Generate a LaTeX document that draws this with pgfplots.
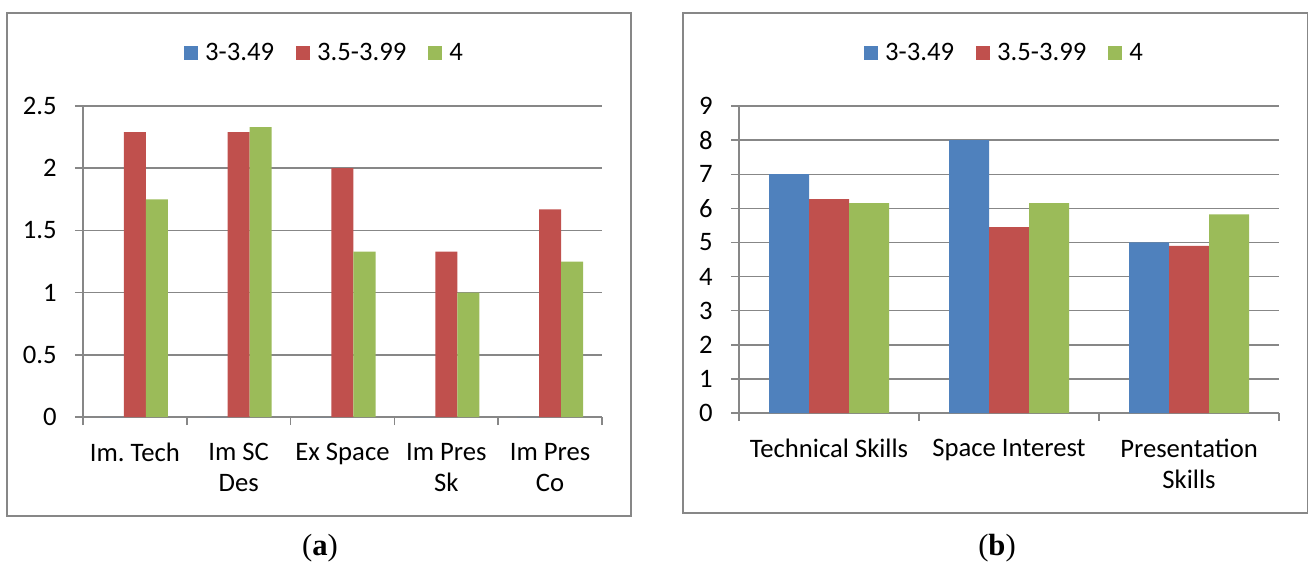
\documentclass[border=0pt]{standalone}
\usepackage{fontspec}
\setmainfont{Carlito}
\newfontfamily\capfont{Liberation Serif}
\usepackage{pgfplots}
\pgfplotsset{compat=1.18}

\definecolor{xlblue}{HTML}{4F81BD}
\definecolor{xlred}{HTML}{C0504D}
\definecolor{xlgreen}{HTML}{9BBB59}
\definecolor{xlgrid}{HTML}{878787}

\pgfplotsset{
  xlbar/.style={
    ybar=0pt,
    scale only axis,
    axis lines*=left,
    axis line style={xlgrid, line width=1.1pt},
    ymajorgrids,
    grid style={xlgrid, line width=1.1pt},
    major tick style={xlgrid, line width=1.1pt},
    tick align=outside,
    major tick length=6pt,
    x tick label as interval,
    /pgf/number format/assume math mode=true,
    tick label style={font=\fontsize{20}{23.25}\selectfont},
    xticklabel style={align=center, anchor=north, inner sep=0pt, yshift=-13.5pt},
    yticklabel style={anchor=east, inner sep=0pt, xshift=-13.5pt},
    legend style={draw=none, fill=none, legend columns=-1,
      font=\fontsize{20}{24}\selectfont,
      nodes={inner sep=0pt},
      /tikz/every odd column/.append style={column sep=5.25pt},
      /tikz/every even column/.append style={column sep=16.5pt}},
    legend image code/.code={\fill[##1] (0pt,-5.25pt) rectangle (10.5pt,5.25pt);},
    every axis plot/.append style={draw=none},
  }
}

\begin{document}
\begin{tikzpicture}[x=0.75pt, y=-0.75pt]
  \useasboundingbox (0,0) rectangle (1309,562);
  % frames round the two charts
  \draw[xlgrid, line width=1.1pt] (7,13) rectangle (631,516);
  \draw[xlgrid, line width=1.1pt] (683,13) rectangle (1307.5,513);
  \coordinate (A) at (83,417);
  \coordinate (B) at (739,413);

  % (a)
  \begin{axis}[xlbar,
      at={(A)}, anchor=south west,
      width=389.25pt, height=233.25pt,
      bar width=16.5pt,
      xmin=-0.5, xmax=4.5,
      xtick={-0.5,0.5,1.5,2.5,3.5,4.5},
      xticklabels={Im.\ Tech, {Im SC\\Des}, Ex Space, {Im Pres\\Sk}, {Im Pres\\Co}},
      ymin=0, ymax=2.5,
      ytick={0,0.5,1,1.5,2,2.5},
      legend style={at={(0.4634,1.171)}, anchor=center},
    ]
    \addplot[fill=xlblue] coordinates {(0,0) (1,0) (2,0) (3,0) (4,0)};
    \addplot[fill=xlred] coordinates {(0,2.29) (1,2.29) (2,2.0) (3,1.33) (4,1.67)};
    \addplot[fill=xlgreen] coordinates {(0,1.75) (1,2.33) (2,1.33) (3,1.0) (4,1.25)};
    \legend{3-3.49, 3.5-3.99, 4}
  \end{axis}

  % (b)
  \begin{axis}[xlbar,
      at={(B)}, anchor=south west,
      width=405pt, height=230.25pt,
      bar width=30pt,
      xmin=-0.5, xmax=2.5,
      xtick={-0.5,0.5,1.5,2.5},
      xticklabels={Technical Skills, Space Interest, {Presentation\\Skills}},
      ymin=0, ymax=9,
      ytick={0,1,...,9},
      legend style={at={(0.4898,1.1736)}, anchor=center},
    ]
    \addplot[fill=xlblue] coordinates {(0,7) (1,8) (2,5)};
    \addplot[fill=xlred] coordinates {(0,6.27) (1,5.45) (2,4.9)};
    \addplot[fill=xlgreen] coordinates {(0,6.15) (1,6.15) (2,5.82)};
    \legend{3-3.49, 3.5-3.99, 4}
  \end{axis}

  \node[font=\capfont\fontsize{23}{27}\selectfont] at (320,548) {({\bfseries a})};
  \node[font=\capfont\fontsize{23}{27}\selectfont] at (997,548) {({\bfseries b})};
\end{tikzpicture}
\end{document}
